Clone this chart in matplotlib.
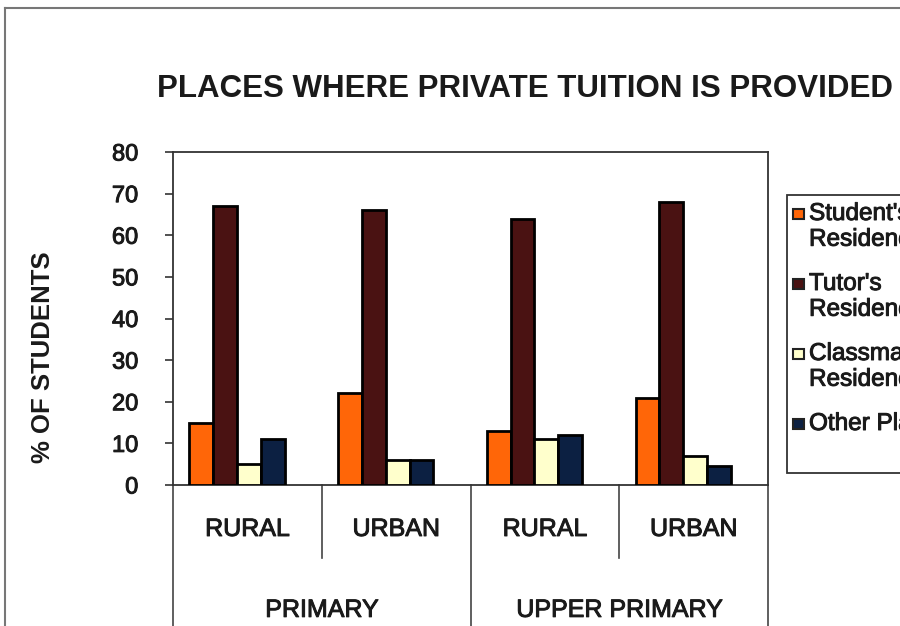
import matplotlib.pyplot as plt
import matplotlib.patheffects as pe
from matplotlib.lines import Line2D
from matplotlib.patches import Rectangle
import numpy as np

plt.rcParams['font.family'] = ['Liberation Sans', 'DejaVu Sans']
plt.rcParams['text.color'] = '#1a1a1a'

# data
places = ["Student's\nResidence", "Tutor's\nResidence", "Classmate's\nResidence", "Other Places"]
groups = ["PRIMARY", "UPPER PRIMARY"]
areas = ["RURAL", "URBAN", "RURAL", "URBAN"]
student_res = [15, 22, 13, 21]
tutor_res = [67, 66, 64, 68]
classmate_res = [5, 6, 11, 7]
other_places = [11, 6, 12, 4.5]
colors = ["#ff6608", "#4a1212", "#ffffcc", "#0c2042"]

# scanned text looks a bit heavier than plain regular
heavy = [pe.withStroke(linewidth=0.7, foreground="#1a1a1a")]

W, H = 900, 626
fig = plt.figure(figsize=(9, 6.26), dpi=100)
ax = fig.add_axes([173 / W, 1 - 485 / H, 595 / W, 333 / H])

x = np.arange(len(areas))
w = 0.16
shift = -0.07
series = [student_res, tutor_res, classmate_res, other_places]
for i, vals in enumerate(series):
    ax.bar(x + shift + (i - 1.5) * w, vals, w, color=colors[i], edgecolor="black",
           linewidth=2, zorder=3)

ax.set_xlim(-0.5, 3.5)
ax.set_ylim(0, 80)
ax.set_yticks(range(0, 81, 10))
ax.tick_params(axis="y", labelsize=17, length=6, width=1.2, color="#333333",
               pad=19, labelcolor="#1a1a1a")
ax.set_xticks([])
for t in ax.get_yticklabels():
    t.set_path_effects(heavy)
for s in ax.spines.values():
    s.set_color("#333333")
    s.set_linewidth(1.3)

fig.text(43 / W, 1 - 357 / H, "% OF STUDENTS", fontsize=18.5, fontweight="bold",
         rotation=90, ha="center", va="center")

# two-level category axis
tr = ax.get_xaxis_transform()
for b in [-0.5, 1.5, 3.5]:
    ax.add_line(Line2D([b, b], [0, -0.6], transform=tr, color="#444444",
                       linewidth=1.2, clip_on=False))
for b in [0.5, 2.5]:
    ax.add_line(Line2D([b, b], [0, -0.22], transform=tr, color="#444444",
                       linewidth=1.2, clip_on=False))
for xi, a in zip(x, areas):
    ax.text(xi, -0.132, a, transform=tr, ha="center", va="center", fontsize=18,
            path_effects=heavy)
for gi, g in enumerate(groups):
    ax.text(gi * 2 + 0.5, -0.375, g, transform=tr, ha="center", va="center", fontsize=18,
            path_effects=heavy)

fig.text(157 / W, 1 - 89 / H, "PLACES WHERE PRIVATE TUITION IS PROVIDED", fontsize=22.5,
         fontweight="bold", ha="left", va="center")

# legend box, drawn by hand so the swatch sits on the first line
fig.add_artist(Rectangle((787 / W, 1 - 473 / H), 130 / W, 278 / H, transform=fig.transFigure,
                         facecolor="white", edgecolor="#333333", linewidth=1.3))
y = 214
for lab, c in zip(places, colors):
    fig.add_artist(Rectangle((793 / W, 1 - (y + 5) / H), 11 / W, 10 / H,
                             transform=fig.transFigure, facecolor=c,
                             edgecolor="#222222", linewidth=1.5))
    fig.text(809 / W, 1 - (y - 11) / H, lab, fontsize=17.5, ha="left", va="top",
             linespacing=1.22, path_effects=heavy)
    y += 28 * (lab.count("\n") + 1) + 14

# outer chart border
fig.add_artist(Line2D([5 / W, 1], [1 - 8 / H, 1 - 8 / H], color="#777777", linewidth=1.5))
fig.add_artist(Line2D([5 / W, 5 / W], [0, 1 - 8 / H], color="#777777", linewidth=1.5))

fig.savefig("out.png", dpi=100)
